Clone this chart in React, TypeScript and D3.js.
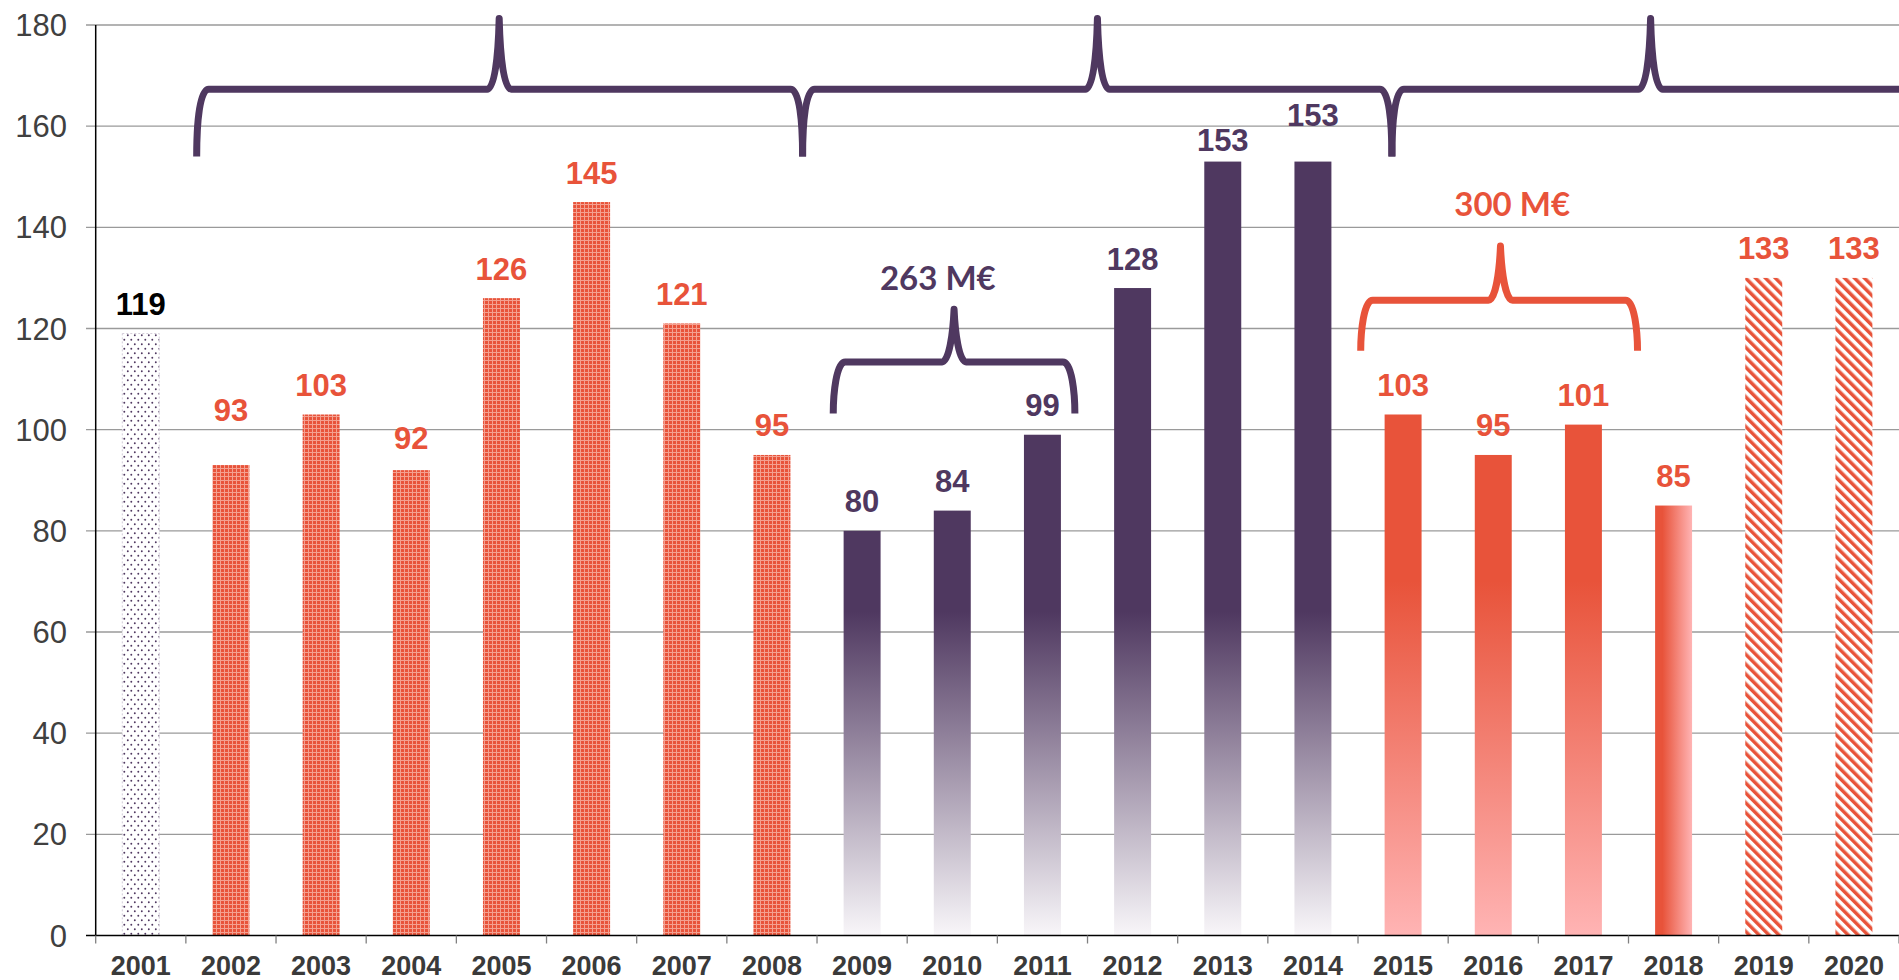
import React from 'react';
import { scaleBand, scaleLinear, range } from 'd3';

// data
const years = ['2001','2002','2003','2004','2005','2006','2007','2008','2009','2010',
  '2011','2012','2013','2014','2015','2016','2017','2018','2019','2020'];
const amounts = [119, 93, 103, 92, 126, 145, 121, 95, 80, 84, 99, 128, 153, 153, 103, 95, 101, 85, 130, 130];
const valueLabels = ['119','93','103','92','126','145','121','95','80','84','99','128','153','153','103','95','101','85','133','133'];
const yTicks = [0, 20, 40, 60, 80, 100, 120, 140, 160, 180];

// braces: positions in category units (0 = left of 2001) and axis values
const topBraces = [
  { from: 1.12, to: 7.84, tip: 4.475 },
  { from: 7.84, to: 14.376, tip: 11.11 },
  { from: 14.376, to: 22, tip: 17.245 },
];
const sumBraces = [
  { from: 8.18, to: 10.86, tip: 9.52, line: 113.4, end: 103.2, top: 123.8, text: '263 M€', tx: 9.34, ty: 127.6, color: '#4f3860' },
  { from: 14.03, to: 17.1, tip: 15.58, line: 125.6, end: 115.6, top: 136.3, text: '300 M€', tx: 15.71, ty: 142.2, color: '#e8533a' },
];

// small per-label nudges (px) where the source moved a label
const labelNudge: Record<string, number> = { '2002': 26, '2013': -8, '2014': 17, '2004': 3 };

const W = 1899;
const H = 980;
const PURPLE = '#4f3860';
const RED = '#e8533a';

const barFill = (i: number) => {
  if (i === 0) return 'url(#dots)';
  if (i <= 7) return 'url(#grid)';
  if (i <= 13) return 'url(#purpleFade)';
  if (i <= 16) return 'url(#redFade)';
  if (i === 17) return 'url(#redSide)';
  return 'url(#stripes)';
};
const labelColor = (i: number) => (i === 0 ? '#000' : i >= 8 && i <= 13 ? PURPLE : RED);

function bracePath(x0: number, x1: number, tx: number, yh: number, ye: number, yt: number, r = 12) {
  return `M${x0},${ye} C${x0},${yh + 32} ${x0 + 3},${yh} ${x0 + r},${yh} L${tx - r},${yh} ` +
    `C${tx - 5},${yh} ${tx - 1},${yh - 29} ${tx},${yt} C${tx + 1},${yh - 29} ${tx + 5},${yh} ${tx + r},${yh} ` +
    `L${x1 - r},${yh} C${x1 - 3},${yh} ${x1},${yh + 32} ${x1},${ye}`;
}

export default function App() {
  const left = 95.7;
  const x = scaleBand().domain(years).range([left, W]).paddingInner(0.59).paddingOuter(0.295);
  const y = scaleLinear().domain([0, 180]).range([935.5, 25]);
  const step = x.step();
  const cat = scaleLinear().domain([0, 20]).range([left, left + step * 20]);
  const y0 = y(0);

  return (
    <svg width={W} height={H} style={{ position: 'absolute', left: 0, top: 0, background: '#fff' }}
      fontFamily="'Liberation Sans', Arial, sans-serif">
      <defs>
        <pattern id="dots" width="7" height="9" patternUnits="userSpaceOnUse">
          <rect width="7" height="9" fill="#fff" />
          <circle cx="1.8" cy="2.2" r="0.95" fill={PURPLE} />
          <circle cx="5.3" cy="6.7" r="0.95" fill={PURPLE} />
        </pattern>
        <pattern id="grid" width="4" height="4" patternUnits="userSpaceOnUse">
          <rect width="4" height="4" fill={RED} />
          <rect width="4" height="1" fill="#f4a090" />
          <rect width="1" height="4" fill="#f4a090" />
        </pattern>
        <pattern id="stripes" width="7" height="7" patternUnits="userSpaceOnUse" patternTransform="rotate(-45)">
          <rect width="7" height="7" fill="#fff" />
          <rect width="3.5" height="7" fill={RED} />
        </pattern>
        <linearGradient id="purpleFade" gradientUnits="userSpaceOnUse" x1="0" x2="0" y1={y(64)} y2={y0}>
          <stop offset="0" stopColor={PURPLE} />
          <stop offset="1" stopColor="#f8f6f9" />
        </linearGradient>
        <linearGradient id="redFade" gradientUnits="userSpaceOnUse" x1="0" x2="0" y1={y(70)} y2={y0}>
          <stop offset="0" stopColor={RED} />
          <stop offset="1" stopColor="#ffb4b4" />
        </linearGradient>
        <linearGradient id="redSide" x1="0" x2="1" y1="0" y2="0">
          <stop offset="0" stopColor={RED} />
          <stop offset="0.2" stopColor={RED} />
          <stop offset="1" stopColor="#ffb4b4" />
        </linearGradient>
      </defs>

      {/* gridlines + y labels */}
      {yTicks.map(t => (
        <g key={t}>
          {t > 0 && <line x1={86} x2={W} y1={y(t)} y2={y(t)} stroke="#9a9a9a" strokeWidth={1.3} />}
          <text x={67} y={y(t)} dy="0.36em" textAnchor="end" fontSize={31} fill="#404040">{t}</text>
        </g>
      ))}

      {/* bars */}
      {years.map((yr, i) => (
        <rect key={yr} x={x(yr)} y={y(amounts[i])} width={x.bandwidth()} height={y0 - y(amounts[i])}
          fill={barFill(i)}
          stroke={i === 0 ? '#d3ccd9' : 'none'} strokeDasharray={i === 0 ? '2 2' : undefined} strokeWidth={1} />
      ))}

      {/* axes */}
      <line x1={86} x2={W} y1={y0} y2={y0} stroke="#000" strokeWidth={1.5} />
      <line x1={left} x2={left} y1={y(180)} y2={y0} stroke="#000" strokeWidth={1.5} />
      {range(0, 21).map(i => (
        <line key={i} x1={cat(i)} x2={cat(i)} y1={y0} y2={y0 + 8} stroke="#808080" strokeWidth={1.3} />
      ))}
      {years.map(yr => (
        <text key={yr} x={(x(yr) as number) + x.bandwidth() / 2} y={975} textAnchor="middle"
          fontSize={27} fontWeight="bold" fill="#3a3a3a">{yr}</text>
      ))}

      {/* value labels */}
      {years.map((yr, i) => (
        <text key={yr} x={(x(yr) as number) + x.bandwidth() / 2}
          y={y(amounts[i]) - 18.5 - (labelNudge[yr] || 0)} textAnchor="middle"
          fontSize={31} fontWeight="bold" fill={labelColor(i)}>{valueLabels[i]}</text>
      ))}

      {/* period braces */}
      {topBraces.map((b, i) => (
        <path key={i} d={bracePath(cat(b.from), cat(b.to), cat(b.tip), y(167.3), y(154), y(181.3))}
          fill="none" stroke={PURPLE} strokeWidth={7} strokeLinejoin="round" />
      ))}
      {sumBraces.map((b, i) => (
        <g key={i}>
          <path d={bracePath(cat(b.from), cat(b.to), cat(b.tip), y(b.line), y(b.end), y(b.top))}
            fill="none" stroke={b.color} strokeWidth={7} strokeLinejoin="round" />
          <text x={cat(b.tx)} y={y(b.ty)} textAnchor="middle" fontSize={33} fontWeight="bold"
            fontFamily="Lato, 'Open Sans', sans-serif" fill={b.color}>{b.text}</text>
        </g>
      ))}
    </svg>
  );
}
